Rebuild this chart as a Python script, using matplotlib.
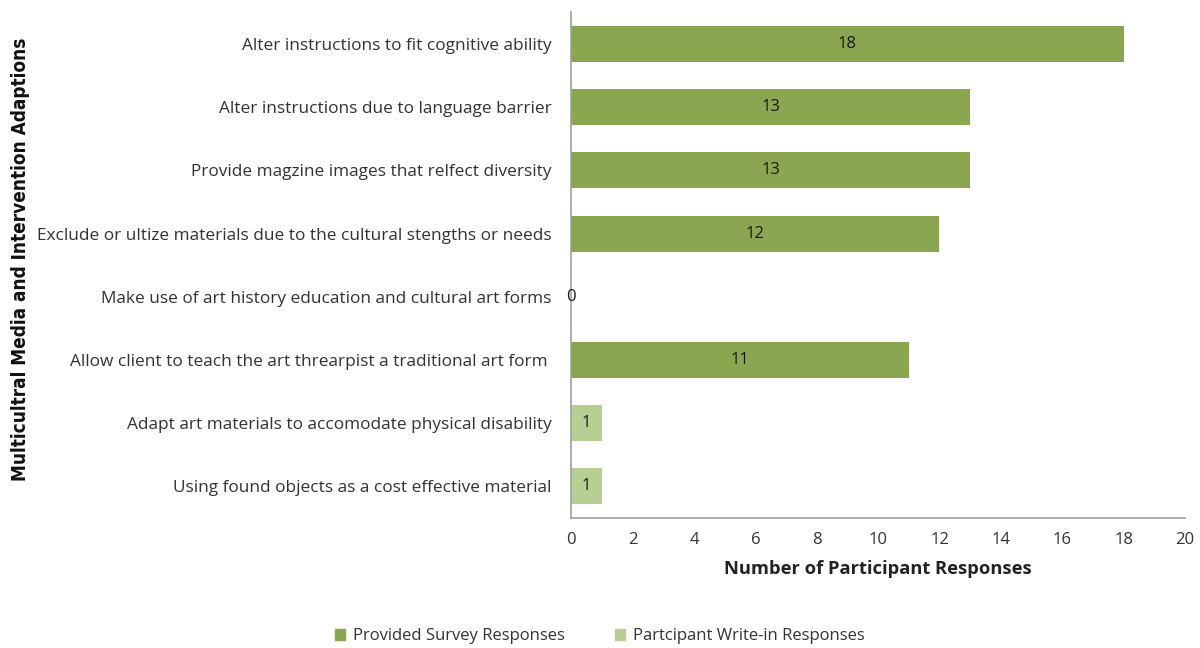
import matplotlib
matplotlib.use("Agg")
import matplotlib.pyplot as plt
from matplotlib.patches import Patch

plt.rcParams['font.family'] = ['Open Sans', 'DejaVu Sans']

categories = [
    "Alter instructions to fit cognitive ability",
    "Alter instructions due to language barrier",
    "Provide magzine images that relfect diversity",
    "Exclude or ultize materials due to the cultural stengths or needs",
    "Make use of art history education and cultural art forms",
    "Allow client to teach the art threarpist a traditional art form ",
    "Adapt art materials to accomodate physical disability",
    "Using found objects as a cost effective material",
]
counts = [18, 13, 13, 12, 0, 11, 1, 1]
# which series each row belongs to: provided by the survey or written in
kinds = ["survey"] * 6 + ["writein"] * 2

colors = {"survey": "#8BA650", "writein": "#B7CF92"}
legend_names = {"survey": "Provided Survey Responses",
                "writein": "Partcipant Write-in Responses"}

fig = plt.figure(figsize=(12, 6.48), dpi=100)
ax = fig.add_axes([0.476, 0.2006, 0.5115, 0.7804])

ypos = list(range(len(categories)))
bars = ax.barh(ypos, counts, height=0.57,
               color=[colors[k] for k in kinds])
for b, v in zip(bars, counts):
    ax.text(b.get_x() + b.get_width() / 2, b.get_y() + b.get_height() / 2,
            str(v), ha="center", va="center", fontsize=12, color="#1a1a1a")

ax.set_ylim(len(categories) - 0.5, -0.5)
ax.set_xlim(0, 20)
ax.set_xticks(range(0, 21, 2))
ax.set_yticks(ypos)
ax.set_yticklabels(categories, fontsize=12.4, color="#333333")
ax.tick_params(axis="x", length=0, pad=10, labelsize=12, labelcolor="#333333")
ax.tick_params(axis="y", length=0, pad=14)

for s in ["top", "right"]:
    ax.spines[s].set_visible(False)
for s in ["left", "bottom"]:
    ax.spines[s].set_color("#A0A0A0")
    ax.spines[s].set_linewidth(1.2)

ax.set_xlabel("Number of Participant Responses", fontsize=13.2, fontweight="bold",
              color="#222222", labelpad=9)
fig.text(0.017, 0.6, "Multicultral Media and Intervention Adaptions",
         rotation=90, ha="center", va="center", fontsize=13.6,
         fontweight="bold", fontstretch="condensed",
         family=["Liberation Sans Narrow", "DejaVu Sans"], color="#111111")

handles = [Patch(color=colors[k], label=legend_names[k]) for k in ["survey", "writein"]]
fig.legend(handles=handles, loc="center", bbox_to_anchor=(0.5, 0.018),
           ncol=2, frameon=False, fontsize=12, handlelength=0.6,
           handleheight=0.6, columnspacing=3, handletextpad=0.5,
           labelcolor="#333333")

fig.savefig("out.png", dpi=100)
